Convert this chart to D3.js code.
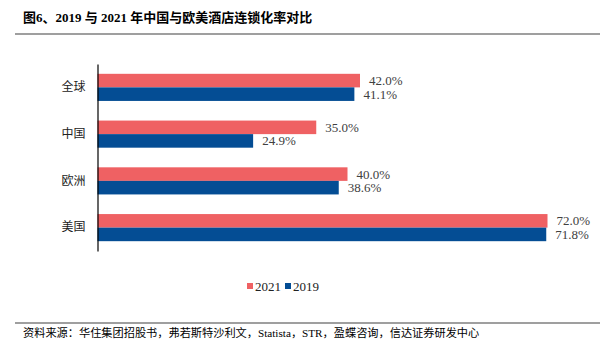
<!DOCTYPE html>
<html><head><meta charset="utf-8">
<script src="https://cdn.jsdelivr.net/npm/d3@7"></script>
<style>body{margin:0;background:#fff}svg{display:block}</style>
</head><body>
<script>
const categories = ["全球", "中国", "欧洲", "美国"];
const seriesNames = ["2021", "2019"];
const values2021 = [42.0, 35.0, 40.0, 72.0];
const values2019 = [41.1, 24.9, 38.6, 71.8];
const colors = ["#EF6163", "#044D94"];

const W = 600, H = 347;
const svg = d3.select("body").append("svg").attr("width", W).attr("height", H);
const latin = "'Liberation Serif','Times New Roman',serif";
const cjk = "'Liberation Serif','Noto Sans CJK SC',serif";

// title
svg.append("text").attr("x", 23).attr("y", 22)
  .attr("font-family", cjk).attr("font-weight", "bold").attr("font-size", 13)
  .attr("fill", "#000").text("图6、2019 与 2021 年中国与欧美酒店连锁化率对比");
svg.append("line").attr("x1", 15).attr("x2", 600).attr("y1", 34).attr("y2", 34)
  .attr("stroke", "#7f7f7f").attr("stroke-width", 1.5);

const x = d3.scaleLinear().domain([0, 80]).range([97.5, 597.5]);
const y = d3.scaleBand().domain(categories).range([64, 251]).paddingInner(0.42).paddingOuter(0.21);
const ySub = d3.scaleBand().domain(seriesNames).range([0, y.bandwidth()]);

const data = categories.map((c, i) => ({c, vals: [values2021[i], values2019[i]]}));

const g = svg.append("g");
data.forEach(d => {
  d.vals.forEach((v, j) => {
    g.append("rect")
      .attr("x", x(0)).attr("y", y(d.c) + ySub(seriesNames[j]))
      .attr("width", x(v) - x(0)).attr("height", ySub.bandwidth())
      .attr("fill", colors[j]);
    g.append("text")
      .attr("x", x(v) + 9).attr("y", y(d.c) + ySub(seriesNames[j]) + ySub.bandwidth() / 2)
      .attr("dy", "0.35em").attr("font-family", latin).attr("font-size", 13)
      .attr("fill", "#404040").text(v.toFixed(1) + "%");
  });
});

// y axis
const yAxis = d3.axisLeft(y).tickSize(0).tickPadding(12);
const ya = svg.append("g").attr("transform", `translate(${x(0)},0)`).call(yAxis);
ya.select(".domain").attr("stroke", "#000").attr("stroke-width", 1.2);
ya.selectAll("text").attr("font-family", cjk).attr("font-size", 12).attr("fill", "#222");

// legend
const leg = svg.append("g");
const legX = [247, 285];
seriesNames.forEach((s, i) => {
  leg.append("rect").attr("x", legX[i]).attr("y", 283).attr("width", 6).attr("height", 6).attr("fill", colors[i]);
  leg.append("text").attr("x", legX[i] + 8).attr("y", 286).attr("dy", "0.35em")
    .attr("font-family", latin).attr("font-size", 13).attr("fill", "#222").text(s);
});

// footer
svg.append("line").attr("x1", 15).attr("x2", 600).attr("y1", 323).attr("y2", 323)
  .attr("stroke", "#7f7f7f").attr("stroke-width", 1.5);
svg.append("text").attr("x", 23).attr("y", 337)
  .attr("font-family", cjk).attr("font-size", 11.2).attr("fill", "#000")
  .text("资料来源：华住集团招股书，弗若斯特沙利文，Statista，STR，盈蝶咨询，信达证券研发中心");
</script>
</body></html>
